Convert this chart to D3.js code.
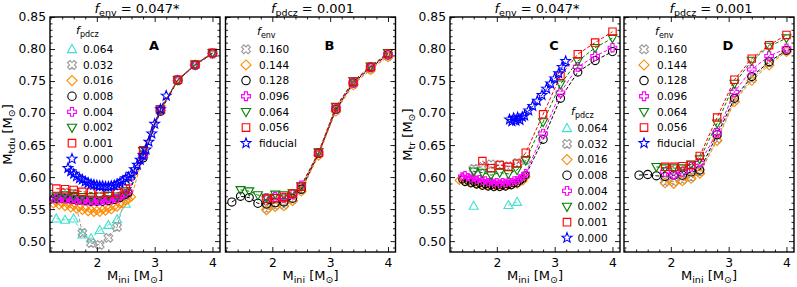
<!DOCTYPE html>
<html><head><meta charset="utf-8">
<script src="https://cdn.jsdelivr.net/npm/d3@7"></script>
<style>body{margin:0;background:#fff}svg{display:block;font-family:"DejaVu Sans",sans-serif}</style>
</head><body><svg id="c" width="797" height="287"></svg>
<script>
// ---------- tick / legend labels ----------
const yTicks = [0.50,0.55,0.60,0.65,0.70,0.75,0.80,0.85];
const xTicks = [2,3,4];
const fpdczLabels = ["0.064","0.032","0.016","0.008","0.004","0.002","0.001","0.000"];
const fenvLabels  = ["0.160","0.144","0.128","0.096","0.064","0.056","fiducial"];
const panelLetters = ["A","B","C","D"];

// ---------- Panel A : M_tdu, f_env = 0.047*, varying f_pdcz ----------
const A_064 = [[1.3,0.535],[1.45,0.533],[1.6,0.535],[1.75,0.510],[1.9,0.504],[2.05,0.517],[2.2,0.525],[2.35,0.534],[2.5,0.558],[2.8,0.636],[3.1,0.705],[3.4,0.752],[3.7,0.775],[4.0,0.793]];
const A_032 = [[1.3,0.569],[1.45,0.576],[1.6,0.574],[1.75,0.513],[1.9,0.497],[2.05,0.494],[2.2,0.505],[2.35,0.522],[2.5,0.572],[2.8,0.635],[3.1,0.704],[3.4,0.751],[3.7,0.775],[4.0,0.793]];
const A_016 = [[1.25,0.558],[1.3,0.561],[1.35,0.556],[1.4,0.559],[1.45,0.554],[1.5,0.557],[1.55,0.552],[1.6,0.555],[1.65,0.550],[1.7,0.553],[1.75,0.548],[1.8,0.551],[1.85,0.546],[1.9,0.549],[1.95,0.545],[2.0,0.548],[2.05,0.545],[2.1,0.549],[2.15,0.547],[2.2,0.551],[2.25,0.549],[2.3,0.554],[2.35,0.553],[2.4,0.558],[2.45,0.558],[2.5,0.563],[2.55,0.565],[2.6,0.569],[2.8,0.634],[3.1,0.704],[3.4,0.751],[3.7,0.775],[4.0,0.793]];
const A_008 = [[1.25,0.567],[1.3,0.565],[1.35,0.568],[1.4,0.566],[1.45,0.568],[1.5,0.565],[1.55,0.567],[1.6,0.564],[1.65,0.566],[1.7,0.563],[1.75,0.565],[1.8,0.562],[1.85,0.564],[1.9,0.561],[1.95,0.563],[2.0,0.561],[2.05,0.563],[2.1,0.561],[2.15,0.564],[2.2,0.562],[2.25,0.565],[2.3,0.564],[2.35,0.567],[2.4,0.567],[2.45,0.570],[2.5,0.572],[2.55,0.575],[2.8,0.630],[3.1,0.703],[3.4,0.751],[3.7,0.775],[4.0,0.793]];
const A_004 = [[1.25,0.566],[1.3,0.568],[1.35,0.566],[1.4,0.567],[1.45,0.565],[1.5,0.567],[1.55,0.564],[1.6,0.566],[1.65,0.563],[1.7,0.565],[1.75,0.563],[1.8,0.564],[1.85,0.562],[1.9,0.563],[1.95,0.562],[2.0,0.563],[2.05,0.562],[2.1,0.564],[2.15,0.563],[2.2,0.565],[2.25,0.564],[2.3,0.567],[2.35,0.566],[2.4,0.570],[2.45,0.571],[2.5,0.575],[2.55,0.578],[2.8,0.634],[3.1,0.705],[3.4,0.752],[3.7,0.775],[4.0,0.793]];
const A_002 = [[1.3,0.570],[1.45,0.572],[1.6,0.571],[1.75,0.569],[1.9,0.569],[2.05,0.570],[2.2,0.571],[2.35,0.570],[2.5,0.578],[2.8,0.641],[3.1,0.706],[3.4,0.752],[3.7,0.776],[4.0,0.794]];
const A_001 = [[1.3,0.582],[1.45,0.581],[1.6,0.580],[1.75,0.577],[1.9,0.576],[2.05,0.575],[2.2,0.575],[2.35,0.575],[2.5,0.582],[2.8,0.642],[3.1,0.706],[3.4,0.752],[3.7,0.776],[4.0,0.794]];
const A_000 = [[1.5,0.614],[1.55,0.609],[1.6,0.605],[1.65,0.601],[1.7,0.598],[1.75,0.596],[1.8,0.593],[1.85,0.591],[1.9,0.589],[1.95,0.588],[2.0,0.587],[2.05,0.586],[2.1,0.586],[2.15,0.585],[2.2,0.585],[2.25,0.586],[2.3,0.587],[2.35,0.589],[2.4,0.591],[2.45,0.594],[2.5,0.598],[2.55,0.600],[2.6,0.605],[2.65,0.612],[2.7,0.619],[2.75,0.627],[2.8,0.634],[2.85,0.643],[2.9,0.655],[2.95,0.668],[3.0,0.683],[3.1,0.706],[3.2,0.727]];

// ---------- Panel B : M_tdu, f_pdcz = 0.001, varying f_env ----------
const B_160 = [[1.9,0.551],[2.05,0.556],[2.2,0.557],[2.35,0.565],[2.5,0.580],[2.8,0.636],[3.1,0.705],[3.4,0.745],[3.7,0.769],[4.0,0.789]];
const B_144 = [[1.9,0.549],[2.05,0.554],[2.2,0.555],[2.35,0.563],[2.5,0.578],[2.8,0.634],[3.1,0.703],[3.4,0.744],[3.7,0.768],[4.0,0.788]];
const B_128 = [[1.3,0.561],[1.45,0.570],[1.6,0.568],[1.75,0.559],[1.9,0.558],[2.05,0.560],[2.2,0.561],[2.35,0.567],[2.5,0.581],[2.8,0.637],[3.1,0.706],[3.4,0.747],[3.7,0.771],[4.0,0.791]];
const B_096 = [[1.9,0.567],[2.05,0.569],[2.2,0.568],[2.35,0.573],[2.5,0.587],[2.8,0.638],[3.1,0.708],[3.4,0.748],[3.7,0.772],[4.0,0.792]];
const B_064 = [[1.45,0.580],[1.6,0.578],[1.75,0.572],[1.9,0.568],[2.05,0.573],[2.2,0.572],[2.35,0.575],[2.5,0.586],[2.8,0.639],[3.1,0.710],[3.4,0.750],[3.7,0.773],[4.0,0.794]];
const B_056 = [[1.9,0.566],[2.05,0.567],[2.2,0.569],[2.35,0.574],[2.5,0.585],[2.8,0.638],[3.1,0.709],[3.4,0.749],[3.7,0.772],[4.0,0.793]];
const B_fid = [];

// ---------- Panel C : M_tr, f_env = 0.047*, varying f_pdcz ----------
const C_064 = [[1.6,0.555],null,[2.2,0.556],[2.35,0.561]];
const C_032 = [[1.6,0.613],[1.75,0.616],[1.9,0.620],[2.05,0.619],[2.2,0.617],[2.35,0.622],[2.5,0.627]];
const C_016 = [[1.35,0.595],[1.4,0.598],[1.45,0.593],[1.5,0.596],[1.55,0.591],[1.6,0.594],[1.65,0.589],[1.7,0.591],[1.75,0.587],[1.8,0.590],[1.85,0.586],[1.9,0.588],[1.95,0.585],[2.0,0.588],[2.05,0.585],[2.1,0.588],[2.15,0.586],[2.2,0.589],[2.25,0.587],[2.3,0.590],[2.35,0.589],[2.4,0.593],[2.45,0.594],[2.5,0.600]];
const C_008 = [[1.4,0.596],[1.45,0.592],[1.5,0.594],[1.55,0.590],[1.6,0.592],[1.65,0.588],[1.7,0.590],[1.75,0.586],[1.8,0.588],[1.85,0.585],[1.9,0.587],[1.95,0.584],[2.0,0.586],[2.05,0.584],[2.1,0.587],[2.15,0.585],[2.2,0.588],[2.25,0.587],[2.3,0.590],[2.35,0.590],[2.4,0.594],[2.45,0.597],[2.5,0.603],[2.8,0.659],[3.1,0.723],[3.4,0.764],[3.7,0.782],[4.0,0.796]];
const C_004 = [[1.4,0.601],[1.45,0.603],[1.5,0.600],[1.55,0.598],[1.6,0.599],[1.65,0.596],[1.7,0.597],[1.75,0.594],[1.8,0.595],[1.85,0.592],[1.9,0.593],[1.95,0.591],[2.0,0.592],[2.05,0.590],[2.1,0.592],[2.15,0.591],[2.2,0.593],[2.25,0.592],[2.3,0.595],[2.35,0.595],[2.4,0.598],[2.45,0.601],[2.5,0.606],[2.8,0.668],[3.1,0.732],[3.4,0.772],[3.7,0.789],[4.0,0.802]];
const C_002 = [[1.6,0.609],[1.75,0.607],[1.9,0.603],[2.05,0.607],[2.2,0.605],[2.35,0.611],[2.5,0.626],[2.8,0.686],[3.1,0.745],[3.4,0.781],[3.7,0.802],[4.0,0.817]];
const C_001 = [[1.75,0.625],[1.9,0.614],[2.05,0.619],[2.2,0.616],[2.35,0.621],[2.5,0.638],[2.8,0.698],[3.1,0.758],[3.4,0.792],[3.7,0.810],[4.0,0.827]];
const C_000 = [[2.22,0.690],[2.26,0.687],[2.29,0.692],[2.33,0.688],[2.36,0.693],[2.40,0.689],[2.44,0.694],[2.48,0.696],[2.55,0.704],[2.62,0.711],[2.70,0.719],[2.78,0.728],[2.86,0.738],[2.93,0.746],[3.00,0.754],[3.07,0.762],[3.13,0.772],[3.19,0.781]];

// ---------- Panel D : M_tr, f_pdcz = 0.001, varying f_env ----------
const D_160 = [[1.9,0.593],[2.05,0.593],[2.2,0.596],[2.35,0.600],[2.5,0.608],[2.8,0.660],[3.1,0.720],[3.4,0.754],[3.7,0.778],[4.0,0.798]];
const D_144 = [[1.9,0.591],[2.05,0.590],[2.2,0.594],[2.35,0.598],[2.5,0.606],[2.8,0.657],[3.1,0.718],[3.4,0.751],[3.7,0.775],[4.0,0.796]];
const D_128 = [[1.45,0.603],[1.6,0.604],[1.75,0.602],[1.9,0.601],[2.05,0.603],[2.2,0.603],[2.35,0.608],[2.5,0.611],[2.8,0.666],[3.1,0.723],[3.4,0.757],[3.7,0.780],[4.0,0.798]];
const D_096 = [[1.9,0.608],[2.05,0.603],[2.2,0.608],[2.35,0.616],[2.5,0.622],[2.8,0.669],[3.1,0.733],[3.4,0.768],[3.7,0.789],[4.0,0.801]];
const D_064 = [[1.75,0.616],[1.9,0.614],[2.05,0.614],[2.2,0.614],[2.35,0.620],[2.5,0.628],[2.8,0.684],[3.1,0.746],[3.4,0.782],[3.7,0.804],[4.0,0.817]];
const D_056 = [[1.9,0.616],[2.05,0.616],[2.2,0.617],[2.35,0.619],[2.5,0.633],[2.8,0.693],[3.1,0.752],[3.4,0.785],[3.7,0.806],[4.0,0.822]];
const D_fid = [];

// ---------- styles ----------
const pdczStyle = [
  {c:"#40e0d0", m:"^"},{c:"#999999", m:"X"},{c:"#ff8c00", m:"D"},{c:"#000000", m:"o"},
  {c:"#ff00ff", m:"P"},{c:"#008000", m:"v"},{c:"#ff0000", m:"s"},{c:"#0000ff", m:"*"}];
const envStyle = [
  {c:"#999999", m:"X"},{c:"#ff8c00", m:"D"},{c:"#000000", m:"o"},{c:"#ff00ff", m:"P"},
  {c:"#008000", m:"v"},{c:"#ff0000", m:"s"},{c:"#0000ff", m:"*"}];

function markerPath(t, r){
  const f = v => v.toFixed(2);
  const poly = pts => "M" + pts.map(p => f(p[0])+","+f(p[1])).join("L") + "Z";
  switch(t){
    case "o": return `M${f(r)},0A${f(r)},${f(r)} 0 1,1 ${f(-r)},0A${f(r)},${f(r)} 0 1,1 ${f(r)},0Z`;
    case "s": { const h=r*0.9; return poly([[-h,-h],[h,-h],[h,h],[-h,h]]); }
    case "^": return poly([[0,-r*1.15],[r*1.1,r*0.8],[-r*1.1,r*0.8]]);
    case "v": return poly([[0,r*1.15],[r*1.1,-r*0.8],[-r*1.1,-r*0.8]]);
    case "D": { const d=r*1.2; return poly([[0,-d],[d,0],[0,d],[-d,0]]); }
    case "P": case "X": {
      const a=r*1.05, w=r*0.38;
      let pts=[[-w,-a],[w,-a],[w,-w],[a,-w],[a,w],[w,w],[w,a],[-w,a],[-w,w],[-a,w],[-a,-w],[-w,-w]];
      if(t==="X"){ const k=Math.SQRT1_2; pts=pts.map(p=>[(p[0]-p[1])*k*1.05,(p[0]+p[1])*k*1.05]); }
      return poly(pts);
    }
    case "*": {
      const R=r*1.25, ri=R*0.42, pts=[];
      for(let i=0;i<10;i++){ const ang=-Math.PI/2+i*Math.PI/5, rr=i%2?ri:R; pts.push([rr*Math.cos(ang),rr*Math.sin(ang)]); }
      return poly(pts);
    }
  }
}

const svg = d3.select("#c");
const xDomain=[1.19,4.13], yDomain=[0.483,0.85];
const PW=170, PT=17, PB=252;
const panelX=[50,225.5,450,624];
const panelData=[
  [A_064,A_032,A_016,A_008,A_004,A_002,A_001,A_000],
  [B_160,B_144,B_128,B_096,B_064,B_056,B_fid],
  [C_064,C_032,C_016,C_008,C_004,C_002,C_001,C_000],
  [D_160,D_144,D_128,D_096,D_064,D_056,D_fid]];
const panelStyles=[pdczStyle,envStyle,pdczStyle,envStyle];
const panelLegLabels=[fpdczLabels,fenvLabels,fpdczLabels,fenvLabels];
const titleSub=[["env"," = 0.047*"],["pdcz"," = 0.001"],["env"," = 0.047*"],["pdcz"," = 0.001"]];
const legSub=["pdcz","env","pdcz","env"];
const legendPos=[
  {mx:22,tx:33,ttx:26,ty:32,y0:49.3},
  {mx:20.5,tx:33.5,ttx:31.5,ty:33,y0:49.3},
  {mx:117,tx:127.5,ttx:121,ty:113,y0:128.3},
  {mx:20,tx:33,ttx:31,ty:33,y0:49.3}];
const denseSet=new Set([A_016,A_008,A_004,A_000,C_016,C_008,C_004]);

panelX.forEach((x0,pi)=>{
  const x=d3.scaleLinear().domain(xDomain).range([x0,x0+PW]);
  const y=d3.scaleLinear().domain(yDomain).range([PB,PT]);
  const g=svg.append("g");
  const xMinor=[1.2,1.4,1.6,1.8,2.2,2.4,2.6,2.8,3.2,3.4,3.6,3.8,4.0].filter(v=>!xTicks.includes(v));
  const yMinor=d3.range(49,86).map(v=>v/100).filter(v=>!yTicks.some(t=>Math.abs(t-v)<1e-6));

  panelData[pi].forEach((data,si)=>{
    const st=panelStyles[pi][si];
    if(!data.length) return;
    const line=d3.line().defined(d=>d!=null).x(d=>x(d[0])).y(d=>y(d[1]));
    g.append("path").attr("d",line(data)).attr("fill","none").attr("stroke",st.c)
      .attr("stroke-width",1).attr("stroke-dasharray","3.5,2");
    const dense=denseSet.has(data);
    g.append("g").selectAll("path").data(data.filter(d=>d)).join("path")
      .attr("transform",d=>`translate(${x(d[0])},${y(d[1])})`)
      .attr("d",d=>markerPath(st.m,(dense&&d[0]<2.7&&st.m!=="*")?3.4:4.1))
      .attr("fill","none").attr("stroke",st.c).attr("stroke-width",1.1);
  });

  const showY = (pi===0||pi===2);
  const axL=d3.axisLeft(y).tickValues(yTicks).tickSize(-5).tickPadding(4).tickFormat(showY?d3.format(".2f"):"");
  const axLm=d3.axisLeft(y).tickValues(yMinor).tickSize(-2.5).tickFormat("");
  const axR=d3.axisRight(y).tickValues(yTicks).tickSize(-5).tickFormat("");
  const axRm=d3.axisRight(y).tickValues(yMinor).tickSize(-2.5).tickFormat("");
  const axB=d3.axisBottom(x).tickValues(xTicks).tickSize(-5).tickPadding(6).tickFormat(d3.format("d"));
  const axBm=d3.axisBottom(x).tickValues(xMinor).tickSize(-2.5).tickFormat("");
  const axT=d3.axisTop(x).tickValues(xTicks).tickSize(-5).tickFormat("");
  const axTm=d3.axisTop(x).tickValues(xMinor).tickSize(-2.5).tickFormat("");
  const put=(ax,tr)=>{const a=g.append("g").attr("transform",tr).call(ax);
    a.select(".domain").remove(); a.selectAll("line").attr("stroke","#000").attr("stroke-width",0.9);
    a.selectAll("text").attr("font-size",12.3).attr("fill","#000").attr("font-family","DejaVu Sans");};
  put(axL,`translate(${x0},0)`); put(axLm,`translate(${x0},0)`);
  put(axR,`translate(${x0+PW},0)`); put(axRm,`translate(${x0+PW},0)`);
  put(axB,`translate(0,${PB})`); put(axBm,`translate(0,${PB})`);
  put(axT,`translate(0,${PT})`); put(axTm,`translate(0,${PT})`);
  g.append("rect").attr("x",x0).attr("y",PT).attr("width",PW).attr("height",PB-PT)
    .attr("fill","none").attr("stroke","#000").attr("stroke-width",1.4);

  const t=g.append("text").attr("x",x0+PW/2+2).attr("y",13).attr("text-anchor","middle").attr("font-size",13);
  t.append("tspan").attr("font-style","italic").text("f");
  t.append("tspan").attr("font-size",9.5).attr("dy",3).text(titleSub[pi][0]);
  t.append("tspan").attr("dy",-3).text(titleSub[pi][1]);

  g.append("text").attr("x",x0+104).attr("y",50).attr("text-anchor","middle")
    .attr("font-size",13).attr("font-weight","bold").text(panelLetters[pi]);

  const xl=g.append("text").attr("x",x0+PW/2).attr("y",280).attr("text-anchor","middle").attr("font-size",13);
  xl.append("tspan").text("M");
  xl.append("tspan").attr("font-size",9.5).attr("dy",2.5).text("ini");
  xl.append("tspan").attr("dy",-2.5).text(" [M");
  xl.append("tspan").attr("font-size",9.5).attr("dy",2.5).text("\u2299");
  xl.append("tspan").attr("dy",-2.5).text("]");

  if(showY){
    const yl=g.append("text").attr("transform",`translate(${x0-38},${(PT+PB)/2}) rotate(-90)`)
      .attr("text-anchor","middle").attr("font-size",13);
    yl.append("tspan").text("M");
    yl.append("tspan").attr("font-size",9.5).attr("dy",2.5).text(pi===0?"tdu":"tr");
    yl.append("tspan").attr("dy",-2.5).text(" [M");
    yl.append("tspan").attr("font-size",9.5).attr("dy",2.5).text("\u2299");
    yl.append("tspan").attr("dy",-2.5).text("]");
  }

  const lp=legendPos[pi];
  const lt=g.append("text").attr("x",x0+lp.ttx).attr("y",lp.ty+2).attr("font-size",11);
  lt.append("tspan").attr("font-style","italic").text("f");
  lt.append("tspan").attr("font-size",8).attr("dy",2.5).text(legSub[pi]);
  panelLegLabels[pi].forEach((lab,i)=>{
    const st=panelStyles[pi][i], yy=lp.y0+i*15.65;
    g.append("path").attr("transform",`translate(${x0+lp.mx},${yy})`).attr("d",markerPath(st.m,4.2))
      .attr("fill","none").attr("stroke",st.c).attr("stroke-width",1.1);
    g.append("text").attr("x",x0+lp.tx).attr("y",yy+3.8).attr("font-size",10.5).text(lab);
  });
});
</script></body></html>
